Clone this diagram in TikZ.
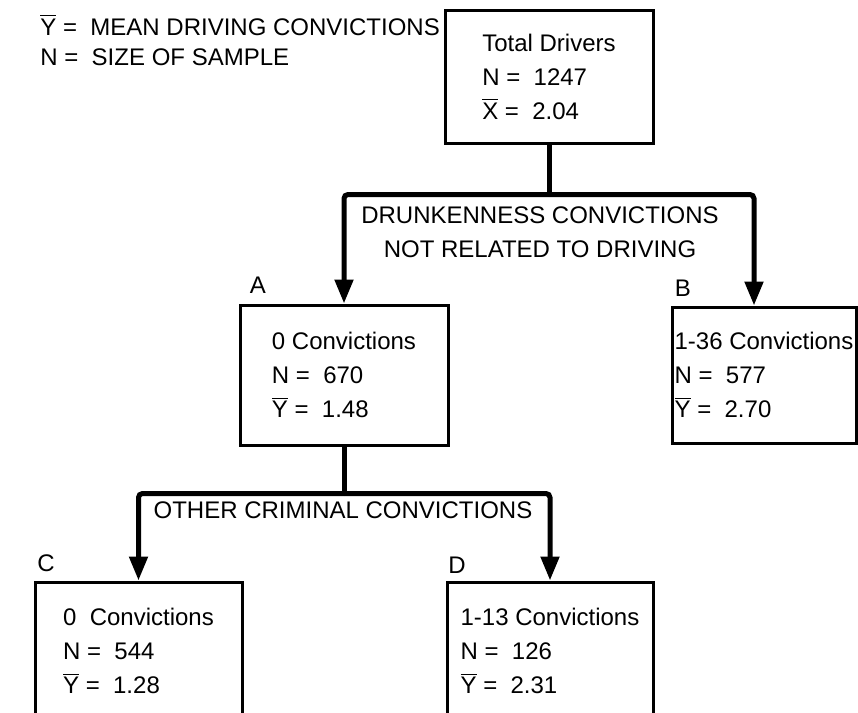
\documentclass[tikz,border=0pt]{standalone}
\usepackage{fontspec}
\setmainfont{Liberation Sans}
\usetikzlibrary{arrows.meta}
\tikzset{
    cell/.style={draw,line width=1.5pt,align=left,inner sep=0pt,font=\fontsize{12}{17}\selectfont},
    tag/.style={inner sep=0pt,font=\fontsize{12}{15}\selectfont},
    crit/.style={align=center,inner sep=0pt,font=\fontsize{12}{17}\selectfont},
    stem/.style={line width=2.5pt,rounded corners=2pt},
    branch/.style={stem,-{Triangle[width=9pt,length=12pt]}}
}
\newcommand{\bary}{$\overline{\mbox{Y}}$}
\newcommand{\barx}{$\overline{\mbox{X}}$}

\begin{document}
\begin{tikzpicture}[x=0.5pt,y=-0.5pt]
    \useasboundingbox (0,0) rectangle (858,713);
    \clip (0,0) rectangle (858,713);

    \node[tag,align=left,anchor=west] (key) at (40,40) {\bary{} =~~MEAN DRIVING CONVICTIONS\\N =~~SIZE OF SAMPLE};

    \node[cell,minimum width=104pt,minimum height=66.5pt] (tot) at (549,76.5) {Total Drivers\\N =~~1247\\\barx{} =~~2.04};
    \node[cell,minimum width=104pt,minimum height=70pt] (boxA) at (344,375) {0 Convictions\\N =~~670\\\bary{} =~~1.48};
    \node[cell,minimum width=92pt,minimum height=68pt] (boxB) at (764,375) {1-36 Convictions\\N =~~577\\\bary{} =~~2.70};
    \node[cell,minimum width=103.5pt,minimum height=69pt] (boxC) at (138.5,651) {0~~Convictions\\N =~~544\\\bary{} =~~1.28};
    \node[cell,minimum width=103pt,minimum height=69pt] (boxD) at (550,651) {1-13 Convictions\\N =~~126\\\bary{} =~~2.31};

    \node[tag] (labA) at (258,285) {A};
    \node[tag] (labB) at (683,288) {B};
    \node[tag] (labC) at (46,563) {C};
    \node[tag] (labD) at (457,565) {D};

    \node[crit] (drunk) at (540,232) {DRUNKENNESS CONVICTIONS\\NOT RELATED TO DRIVING};
    \node[crit] (other) at (343,510) {OTHER CRIMINAL CONVICTIONS};

    \path (tot.south) ++(0,50) coordinate (j1);
    \draw[stem] (tot.south) -- (j1);
    \draw[branch] (j1) -| (boxA.north);
    \draw[branch] (j1) -| ([xshift=-5pt]boxB.north);

    \path (boxA.south) ++(0,47) coordinate (j2);
    \draw[stem] (boxA.south) -- (j2);
    \draw[branch] (j2) -| (boxC.north);
    \draw[branch] (j2) -| (boxD.north);
\end{tikzpicture}
\end{document}
